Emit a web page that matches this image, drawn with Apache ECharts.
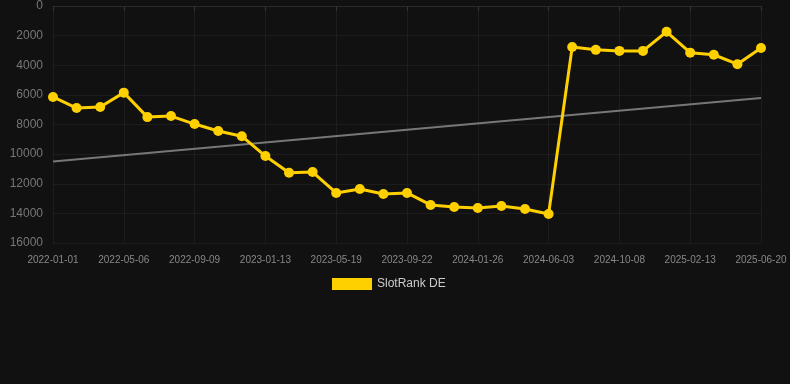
<!DOCTYPE html>
<html>
<head>
<meta charset="utf-8">
<script src="https://cdn.jsdelivr.net/npm/echarts@6/dist/echarts.min.js"></script>
<style>
html,body{margin:0;padding:0;background:#111111;}
#c{width:790px;height:384px;}
</style>
</head>
<body>
<div id="c"></div>
<script>
const categories = [
  '2022-01-01','2022-02-12','2022-03-26','2022-05-06','2022-06-17','2022-07-29',
  '2022-09-09','2022-10-21','2022-12-02','2023-01-13','2023-02-24','2023-04-07',
  '2023-05-19','2023-06-30','2023-08-11','2023-09-22','2023-11-03','2023-12-15',
  '2024-01-26','2024-03-09','2024-04-21','2024-06-03','2024-07-15','2024-08-27',
  '2024-10-08','2024-11-20','2025-01-01','2025-02-13','2025-03-27','2025-05-09',
  '2025-06-20'
];
const rankValues = [
  6140, 6890, 6820, 5850, 7500, 7430,
  7970, 8440, 8790, 10130, 11260, 11210,
  12620, 12350, 12690, 12620, 13430, 13570,
  13640, 13500, 13700, 14040, 2770, 2960,
  3030, 3030, 1740, 3150, 3290, 3930,
  2840
];
const trendStart = 10500;
const trendEnd = 6210;
const yTicks = [0, 2000, 4000, 6000, 8000, 10000, 12000, 14000, 16000];

const trendData = categories.map((c, i) => i === 0 ? trendStart : (i === categories.length - 1 ? trendEnd : null));

const chart = echarts.init(document.getElementById('c'));
chart.setOption({
  backgroundColor: '#111111',
  animation: false,
  grid: { left: 53, right: 29, top: 6, bottom: 141, containLabel: false },
  legend: {
    data: ['SlotRank DE'],
    top: 273,
    left: 327,
    icon: 'rect',
    itemWidth: 40,
    itemHeight: 12,
    itemGap: 10,
    textStyle: { color: '#cccccc', fontSize: 12, fontFamily: 'sans-serif' }
  },
  xAxis: {
    type: 'category',
    data: categories,
    boundaryGap: false,
    axisLine: { show: true, lineStyle: { color: '#2a2a2a' } },
    axisTick: { show: true, interval: 2, lineStyle: { color: '#333333' } },
    axisLabel: { interval: 2, color: '#888888', fontSize: 10, margin: 12, fontFamily: 'sans-serif' },
    splitLine: { show: true, interval: 2, lineStyle: { color: '#1d1d1d' } }
  },
  yAxis: {
    type: 'value',
    inverse: true,
    min: yTicks[0],
    max: yTicks[yTicks.length - 1],
    interval: 2000,
    axisLine: { show: false },
    axisTick: { show: false },
    axisLabel: { color: '#777777', fontSize: 12, margin: 10, fontFamily: 'sans-serif', formatter: (v) => String(v) },
    splitLine: { show: true, lineStyle: { color: '#1d1d1d' } }
  },
  series: [
    {
      name: 'Trend',
      type: 'line',
      data: trendData,
      connectNulls: true,
      symbol: 'none',
      lineStyle: { color: '#777777', width: 2 },
      z: 1,
      silent: true
    },
    {
      name: 'SlotRank DE',
      type: 'line',
      data: rankValues,
      symbol: 'circle',
      symbolSize: 10,
      itemStyle: { color: '#FFD000' },
      lineStyle: { color: '#FFD000', width: 3 },
      z: 3
    }
  ]
});
</script>
</body>
</html>
